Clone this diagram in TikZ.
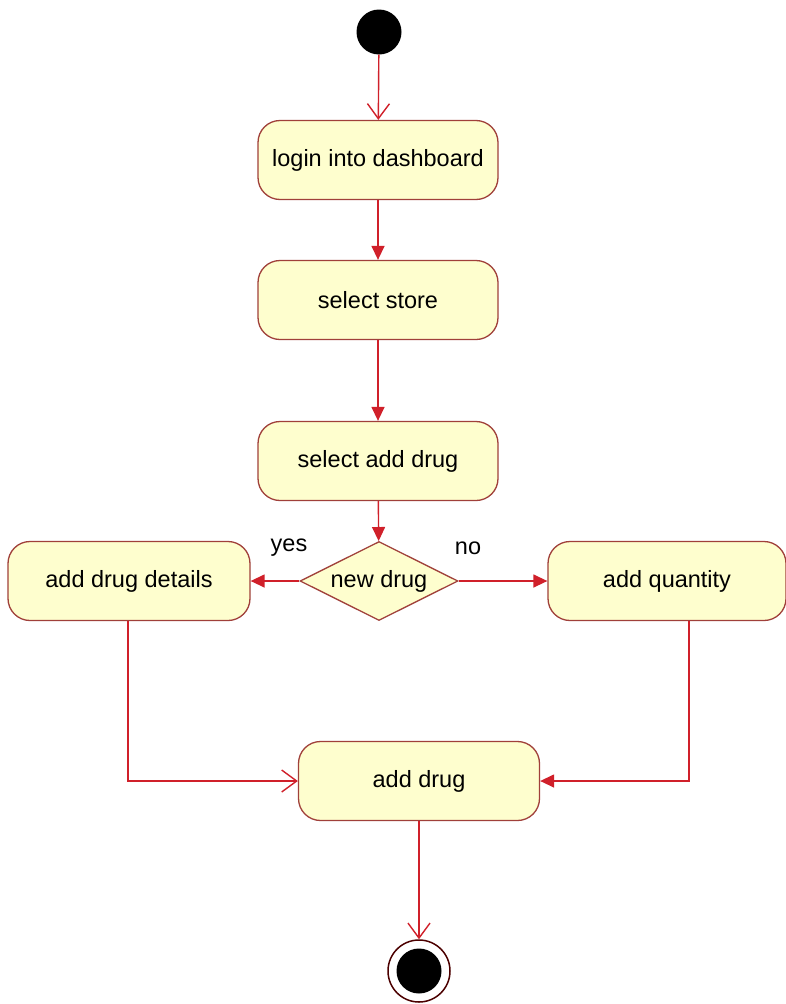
\documentclass[tikz,border=0pt]{standalone}
\usepackage{fontspec}
\setmainfont{Liberation Sans}
\usetikzlibrary{arrows.meta,shapes.geometric}
\definecolor{boxfill}{HTML}{FEFECE}
\definecolor{boxline}{HTML}{A0403A}
\definecolor{arr}{HTML}{D0202A}
\begin{document}
\begin{tikzpicture}[x=1pt,y=-1pt,
  act/.style={draw=boxline, line width=1.3pt, fill=boxfill, rounded corners=22pt,
     minimum width=240pt, minimum height=79pt, inner sep=0pt, font=\fontsize{23.5}{28}\selectfont},
  dec/.style={draw=boxline, line width=1.3pt, fill=boxfill, diamond, aspect=2,
     minimum width=158pt, minimum height=79pt, inner sep=0pt, font=\fontsize{23.5}{28}\selectfont},
  flow/.style={draw=arr, line width=1.4pt},
  openarr/.style={flow, -{Straight Barb[length=15pt,width=22pt,line width=1.4pt]}},
  fillarr/.style={flow, -{Triangle[length=14pt,width=13pt]}},
  lbl/.style={font=\fontsize{23.5}{28}\selectfont}]
\useasboundingbox (0,0) rectangle (785,1004);
\fill[white] (0,0) rectangle (785,1004);
\node[circle, fill=black, minimum size=45pt, inner sep=0pt] (start) at (379,32) {};
\node[act] (login) at (378,160) {login into dashboard};
\node[act] (store) at (378,300) {select store};
\node[act] (sel) at (378,461) {select add drug};
\node[dec] (new) at (379,581) {new drug};
\node[act, minimum width=242pt] (details) at (129,581) {add drug details};
\node[act, minimum width=238pt] (qty) at (667,581) {add quantity};
\node[act, minimum width=241pt] (add) at (419,781) {add drug};
\node[circle, draw=black!70!red, line width=1.5pt, fill=white, minimum size=62pt, inner sep=0pt] (endo) at (419,971) {};
\node[circle, fill=black, minimum size=45pt, inner sep=0pt] (endi) at (419,971) {};
\coordinate (lc) at (128,781);
\coordinate (rc) at (689,781);
\draw[openarr] (start) -- (login);
\draw[fillarr] (login) -- (store);
\draw[fillarr] (store) -- (sel);
\draw[fillarr] (sel) -- (new);
\draw[fillarr] (new) -- (details);
\draw[fillarr] (new) -- (qty);
\draw[openarr] (details.south -| lc) -- (lc) -- (add.west);
\draw[fillarr] (qty.south -| rc) -- (rc) -- (add.east);
\draw[openarr] (add) -- (endo);
\node[lbl] (yes) at (289,548) {yes};
\node[lbl] (no) at (468,548) {no};
\end{tikzpicture}
\end{document}
